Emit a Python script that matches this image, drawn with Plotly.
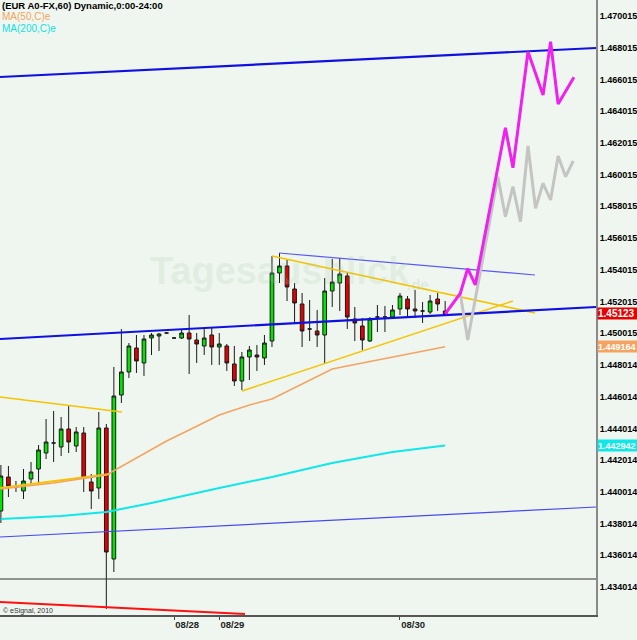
import plotly.graph_objects as go

# ---------------- data ----------------
candle_idx = list(range(60))
opens = [1.438805, 1.440949, 1.440319, 1.440067, 1.440823, 1.441454, 1.442462, 1.443093, 1.442841, 1.443976,
         1.442904, 1.443724, 1.440634, 1.440256, 1.444039, 1.435779, 1.446119, 1.447571, 1.449083, 1.448138,
         1.449713, 1.449839, 1.450028, 1.449713, 1.449713, 1.450028, 1.449587, 1.449209, 1.449902, 1.449146,
         1.449209, 1.448075, 1.447002, 1.448516, 1.448642, 1.448453, 1.449524, 1.453811, 1.454253, 1.452803,
         1.451857, 1.450281, 1.450155, 1.449902, 1.452676, 1.453181, 1.453622, 1.450911, 1.450470, 1.449524,
         1.451037, 1.451037, 1.451037, 1.451542, 1.452172, 1.451542, 1.451416, 1.451353, 1.452172, 1.451416]
highs = [1.441706, 1.441643, 1.440697, 1.441454, 1.441895, 1.442967, 1.444606, 1.445111, 1.444732, 1.445426,
         1.444102, 1.444102, 1.441138, 1.445047, 1.444291, 1.447886, 1.450281, 1.449398, 1.449902, 1.449902,
         1.450028, 1.450028, 1.450091, 1.449776, 1.450218, 1.451163, 1.450028, 1.450344, 1.450407, 1.450028,
         1.449335, 1.449209, 1.448831, 1.449209, 1.449272, 1.449902, 1.454883, 1.455072, 1.454631, 1.453181,
         1.452550, 1.452109, 1.451479, 1.453496, 1.454694, 1.454757, 1.453811, 1.451668, 1.450974, 1.451037,
         1.451794, 1.451731, 1.451794, 1.452550, 1.452361, 1.452740, 1.451983, 1.452424, 1.452550, 1.452046]
lows = [1.438049, 1.439688, 1.440004, 1.439562, 1.440445, 1.440571, 1.442084, 1.441895, 1.442273, 1.442462,
        1.442525, 1.440004, 1.438932, 1.439562, 1.432627, 1.434959, 1.445615, 1.447193, 1.447508, 1.447319,
        1.448642, 1.448894, 1.449965, 1.449650, 1.449650, 1.447445, 1.448138, 1.448642, 1.448012, 1.448012,
        1.447634, 1.446687, 1.446435, 1.447065, 1.447634, 1.448012, 1.449146, 1.453181, 1.452046, 1.450596,
        1.449146, 1.449524, 1.449146, 1.448138, 1.451668, 1.451416, 1.450281, 1.449524, 1.448957, 1.449461,
        1.450091, 1.450091, 1.450911, 1.451163, 1.450974, 1.450974, 1.450659, 1.451227, 1.451416, 1.451163]
closes = [1.441012, 1.440382, 1.440319, 1.440697, 1.441265, 1.442652, 1.443156, 1.443093, 1.443976, 1.443156,
          1.443787, 1.440886, 1.440067, 1.444039, 1.436220, 1.446056, 1.447571, 1.449209, 1.448264, 1.449650,
          1.449902, 1.449965, 1.450028, 1.449713, 1.450028, 1.449650, 1.449335, 1.449713, 1.449146, 1.449335,
          1.448138, 1.447002, 1.448516, 1.448957, 1.448516, 1.449398, 1.453811, 1.454253, 1.452929, 1.451920,
          1.450155, 1.450281, 1.449902, 1.452676, 1.453244, 1.453748, 1.451037, 1.450659, 1.449587, 1.450911,
          1.451037, 1.451037, 1.451479, 1.452361, 1.451542, 1.451416, 1.451416, 1.452046, 1.451857, 1.451230]

ma50_x = [0, 7, 14, 17, 22, 25, 29, 33, 36, 40, 44, 48, 52, 56, 59]
ma50_y = [1.440193, 1.440571, 1.441075, 1.441895, 1.443219, 1.443912, 1.444858, 1.445489, 1.445867,
          1.446813, 1.447759, 1.448138, 1.448516, 1.448894, 1.449164]
ma200_x = [0, 8, 14, 20, 29, 36, 44, 52, 59]
ma200_y = [1.438301, 1.438490, 1.438742, 1.439310, 1.440256, 1.440949, 1.441832, 1.442525, 1.442942]

# hand-drawn trend lines (x in bar index, y in price)
blue_top_x, blue_top_y = [-0.12, 79.03], [1.466169, 1.467998]
blue_mid_x, blue_mid_y = [-0.12, 79.03], [1.449650, 1.451668]
blue_low_x, blue_low_y = [-0.12, 79.03], [1.437166, 1.439058]
blue_tri_x, blue_tri_y = [36.93, 70.93], [1.455072, 1.453685]
yel_left_top_x, yel_left_top_y = [-0.12, 16.08], [1.445993, 1.445047]
yel_left_low_x, yel_left_low_y = [-0.12, 14.49], [1.440256, 1.441138]
yel_tri_top_x, yel_tri_top_y = [36.0, 70.93], [1.454883, 1.451290]
yel_tri_low_x, yel_tri_low_y = [32.02, 68.0], [1.446371, 1.452046]
red_line_x, red_line_y = [-0.12, 32.42], [1.433068, 1.432311]
hline_price = 1.434518

# projections
proj_main_x = [59, 61, 62, 63, 67, 68, 70, 72, 73, 74, 76.1]
proj_main_y = [1.451230, 1.452519, 1.454095, 1.453055, 1.462973, 1.460451, 1.467764, 1.465034,
               1.468395, 1.464467, 1.466150]
proj_alt_x = [61, 62, 66, 67, 68, 69, 70, 71, 72, 73, 74, 75, 76]
proj_alt_y = [1.452519, 1.449587, 1.459883, 1.457361, 1.459253, 1.457046, 1.461819, 1.457891,
              1.459467, 1.458414, 1.461190, 1.459883, 1.460873]

y_tick_vals = [1.434014, 1.436014, 1.438014, 1.440014, 1.442014, 1.444014, 1.446014, 1.448014,
               1.450015, 1.452015, 1.454015, 1.456015, 1.458015, 1.460015, 1.462015, 1.464015,
               1.466015, 1.468015, 1.470015]
y_tick_text = ["%.6f" % v for v in y_tick_vals]
x_tick_vals = [23, 29, 53]
x_tick_text = ["08/28", "08/29", "08/30"]

last_price = 1.45123
ma50_last = 1.449164
ma200_last = 1.442942

# ---------------- figure ----------------
BG = "#eff6ef"
fig = go.Figure()

fig.add_trace(go.Candlestick(
    x=candle_idx, open=opens, high=highs, low=lows, close=closes,
    increasing=dict(fillcolor="#00e400", line=dict(color="#1a1a1a", width=1)),
    decreasing=dict(fillcolor="#e40000", line=dict(color="#1a1a1a", width=1)),
    whiskerwidth=0, showlegend=False, hoverinfo="skip"))

def line(x, y, color, width):
    fig.add_trace(go.Scatter(x=x, y=y, mode="lines", line=dict(color=color, width=width),
                             showlegend=False, hoverinfo="skip"))

line(red_line_x, red_line_y, "#ff1010", 2)
line(ma200_x, ma200_y, "#10e8e8", 2)
line(yel_left_low_x, yel_left_low_y, "#f4c400", 2)
line(ma50_x, ma50_y, "#f4a460", 1.6)
line(blue_low_x, blue_low_y, "#4848f0", 1.2)
line(blue_tri_x, blue_tri_y, "#5858f8", 1.2)
line(yel_left_top_x, yel_left_top_y, "#f4c400", 1.6)
line(yel_tri_top_x, yel_tri_top_y, "#f4c400", 1.6)
line(yel_tri_low_x, yel_tri_low_y, "#f4c400", 1.6)
line(blue_top_x, blue_top_y, "#1010e0", 2.2)
line(blue_mid_x, blue_mid_y, "#1010e0", 2.2)
line(proj_alt_x, proj_alt_y, "#c4c4c4", 3)
line(proj_main_x, proj_main_y, "#f020f0", 3)

fig.add_shape(type="line", xref="paper", x0=0, x1=1, yref="y", y0=hline_price, y1=hline_price,
              line=dict(color="#303030", width=1))

ann = []
# watermark
ann.append(dict(text="Tagesausblick", xref="paper", yref="paper", x=280 / 596, y=1 - 271 / 615,
                xanchor="center", yanchor="middle", showarrow=False,
                font=dict(family="Liberation Sans, Arial", size=38, color="rgba(170,200,170,0.20)",
                          weight="bold")))
ann.append(dict(text=".de", xref="paper", yref="paper", x=418 / 596, y=1 - 284 / 615,
                xanchor="center", yanchor="middle", showarrow=False,
                font=dict(family="Liberation Sans, Arial", size=15, color="rgba(170,200,170,0.26)",
                          weight="bold")))
# header texts
ann.append(dict(text="(EUR A0-FX,60) Dynamic,0:00-24:00", xref="paper", yref="paper", x=0, y=1 - 5 / 615,
                xanchor="left", yanchor="middle", showarrow=False,
                font=dict(family="Liberation Sans, Arial", size=9.5, color="black", weight="bold")))
ann.append(dict(text="MA(50,C)e", xref="paper", yref="paper", x=0, y=1 - 17 / 615,
                xanchor="left", yanchor="middle", showarrow=False,
                font=dict(family="Liberation Sans, Arial", size=10, color="#f4a460")))
ann.append(dict(text="MA(200,C)e", xref="paper", yref="paper", x=0, y=1 - 29 / 615,
                xanchor="left", yanchor="middle", showarrow=False,
                font=dict(family="Liberation Sans, Arial", size=10, color="#10e0e0")))
ann.append(dict(text="© eSignal, 2010", xref="paper", yref="paper", x=0.002, y=1 - 611 / 615,
                xanchor="left", yanchor="middle", showarrow=False,
                font=dict(family="Liberation Sans, Arial", size=7, color="#333333")))
# price badges
for val, bg, txt, fs in [(last_price, "#e80000", "1.45123", 10), (ma50_last, "#f4a460", "1.449164", 9),
                         (ma200_last, "#10e8e8", "1.442942", 9)]:
    ann.append(dict(text="<b>%s</b>" % txt, xref="paper", yref="y", x=1, y=val, xanchor="left",
                    yanchor="middle", xshift=1, showarrow=False, bgcolor=bg, width=40, height=11,
                    align="left", borderpad=0,
                    font=dict(family="Liberation Sans, Arial", size=fs, color="white")))

fig.update_layout(
    width=637, height=640,
    margin=dict(l=0, r=41, t=0, b=25),
    paper_bgcolor=BG, plot_bgcolor=BG,
    showlegend=False,
    annotations=ann,
    xaxis=dict(range=[-0.12, 79.03], showgrid=False, zeroline=False, rangeslider=dict(visible=False),
               tickvals=x_tick_vals, ticktext=x_tick_text, ticks="outside", ticklen=3,
               tickcolor="#444444", ticklabelposition="outside right",
               showline=True, linecolor="#555555", linewidth=1.5,
               tickfont=dict(family="Liberation Sans, Arial", size=9.5, color="#222222", weight="bold")),
    yaxis=dict(range=[1.432248, 1.471024], side="right", showgrid=False, zeroline=False,
               tickvals=y_tick_vals, ticktext=y_tick_text, ticks="",
               showline=True, linecolor="#8a8a8a", linewidth=2,
               tickfont=dict(family="Liberation Sans, Arial", size=9, color="black", weight="bold")),
)

fig.write_html("out.html", config={"displayModeBar": False},
               post_script="document.body.style.margin='0';document.body.style.overflow='hidden';")
